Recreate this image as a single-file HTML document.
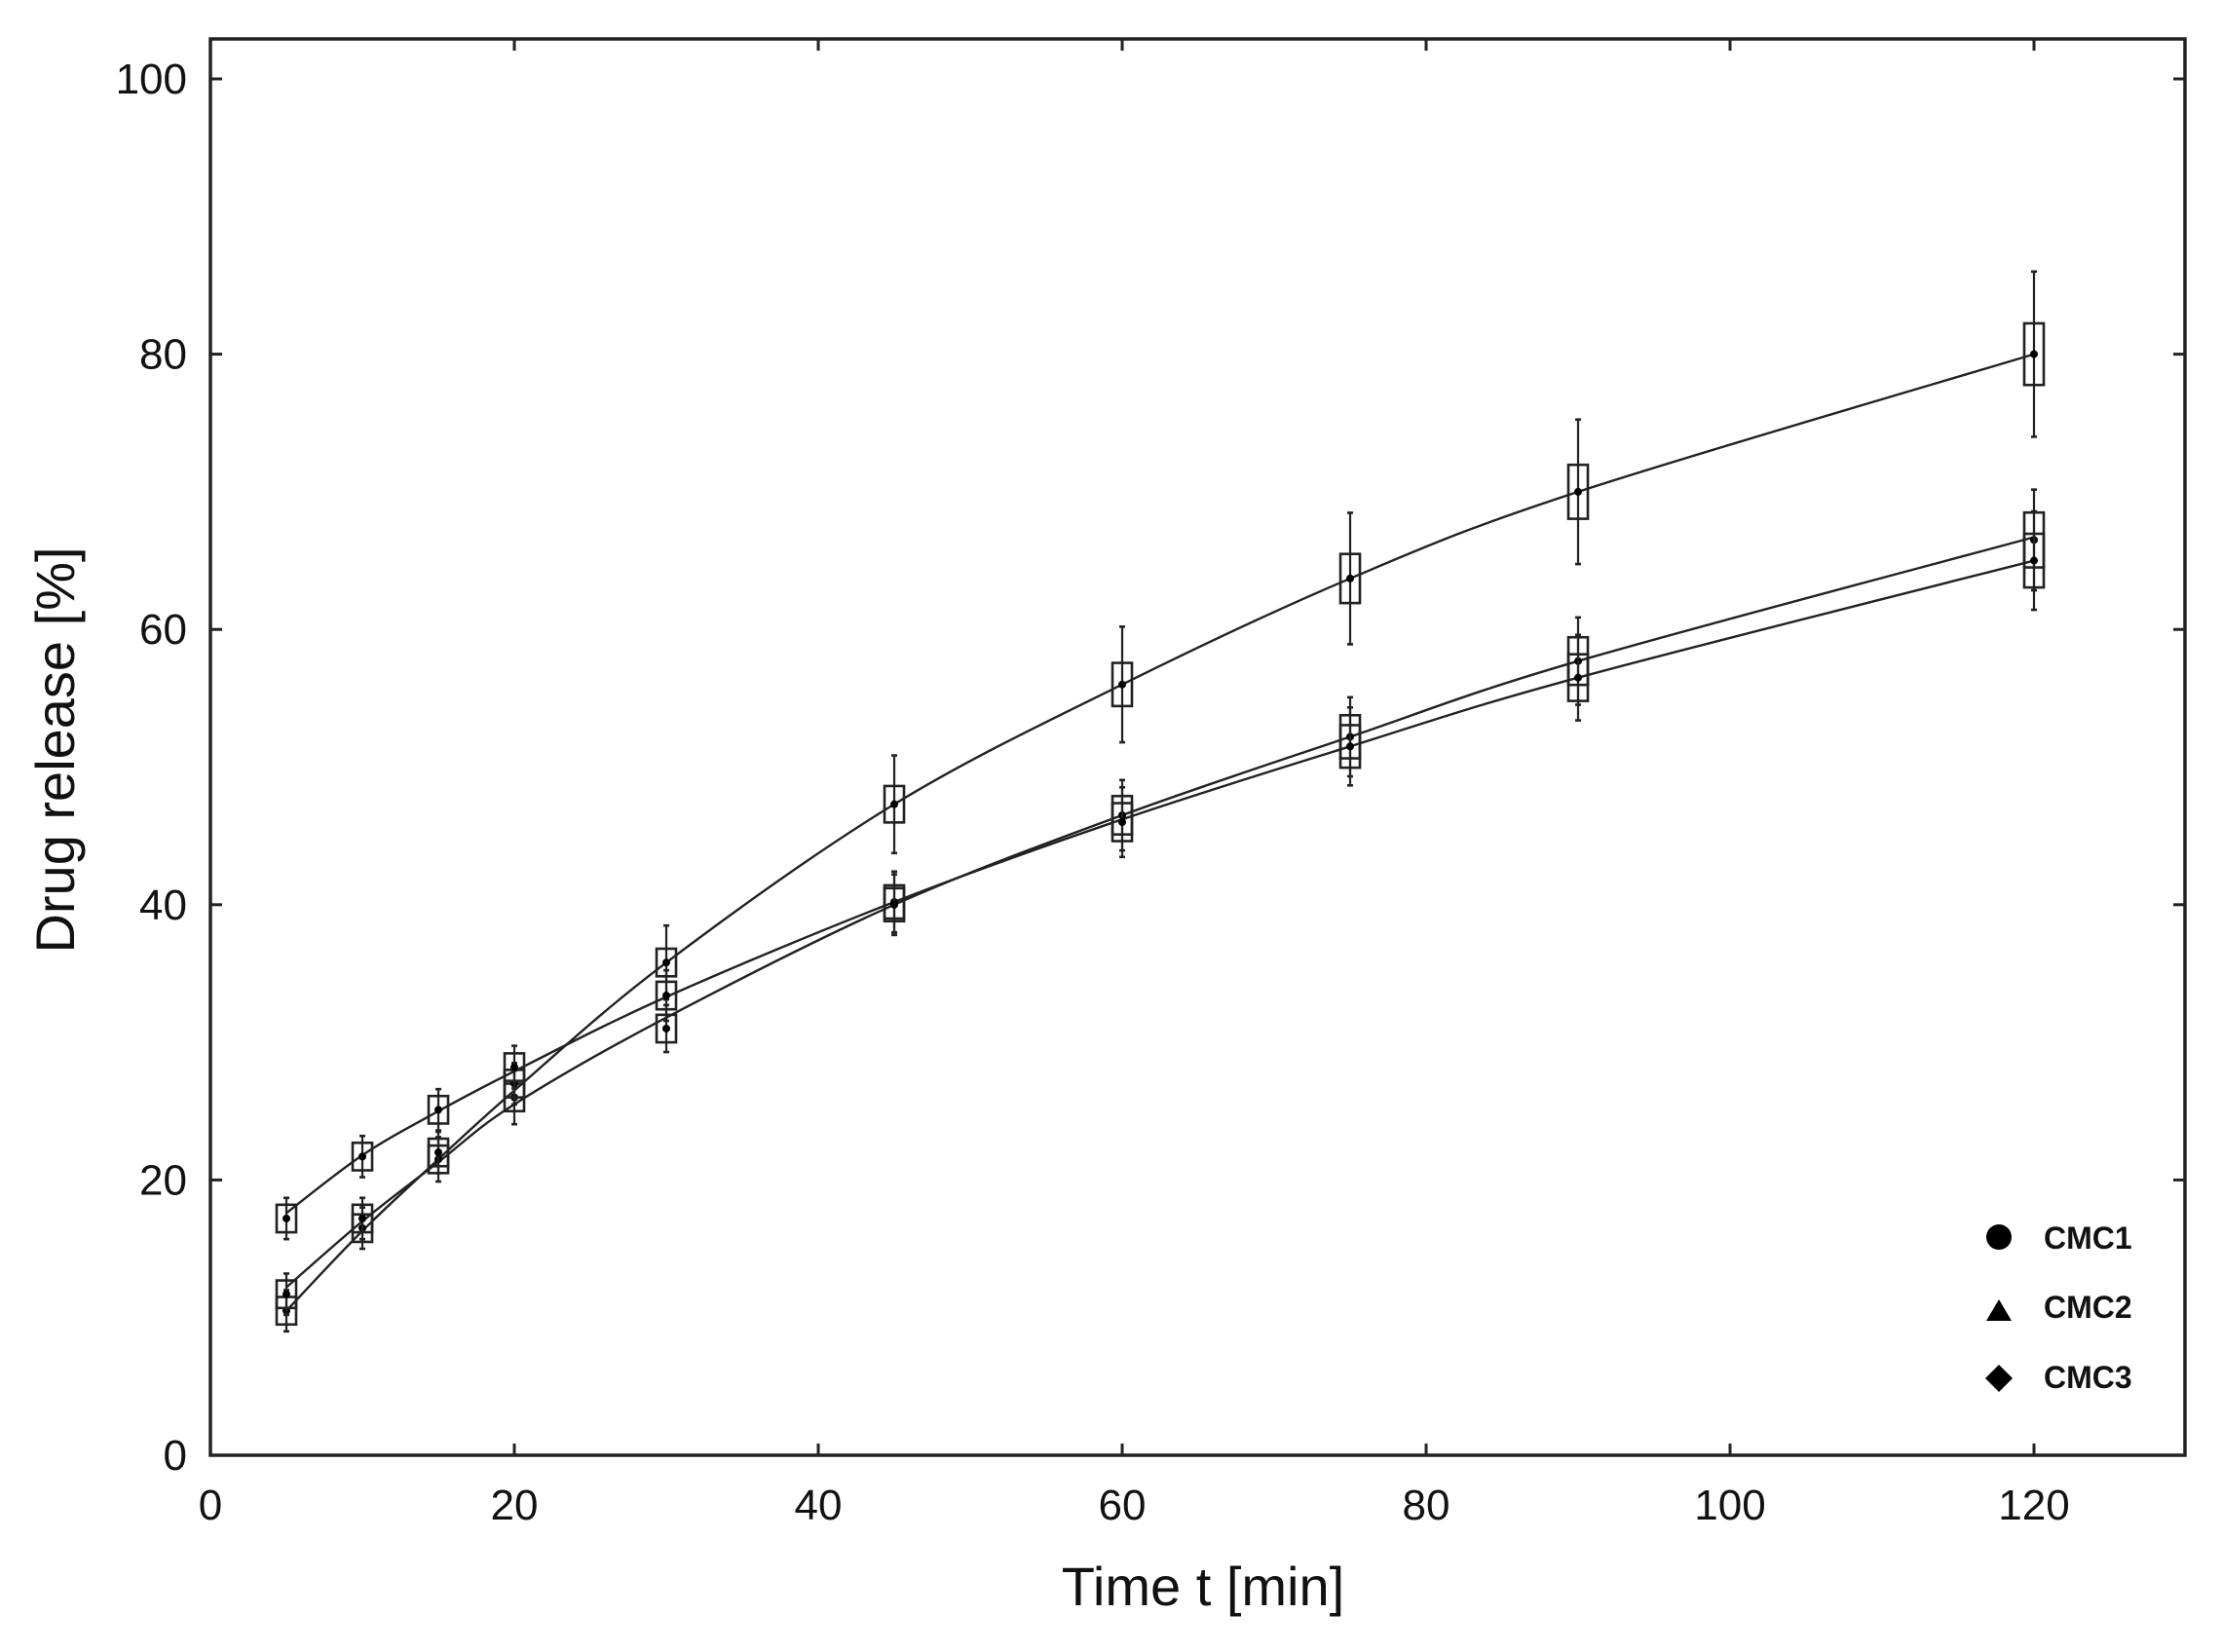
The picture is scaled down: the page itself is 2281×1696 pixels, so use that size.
<!DOCTYPE html>
<html><head><meta charset="utf-8"><style>
html,body{margin:0;padding:0;background:#fff;}
svg{display:block;}
text{font-family:"Liberation Sans",Arial,sans-serif;fill:#111;}
</style></head><body>
<svg id="s" width="2281" height="1696" viewBox="0 0 2281 1696" xmlns="http://www.w3.org/2000/svg">
<rect x="216" y="40" width="2027" height="1454" fill="none" stroke="#222" stroke-width="3.5"/>
<g id="ticks" stroke="#222" stroke-width="3"></g>
<g id="lab" font-size="44" fill="#111"></g>
<g id="plot" fill="none" stroke="#222" stroke-width="2.6"></g>
<text x="1235" y="1648" font-size="56" text-anchor="middle">Time t [min]</text>
<text transform="translate(76,770) rotate(-90)" font-size="56" text-anchor="middle">Drug release [%]</text>
<circle cx="2052" cy="1270" r="13" fill="#000"/>
<polygon points="2052,1334 2065,1356 2039,1356" fill="#000"/>
<polygon points="2052,1401 2066,1415 2052,1429 2038,1415" fill="#000"/>
<text x="2098" y="1282" font-size="32" font-weight="bold">CMC1</text>
<text x="2098" y="1353" font-size="32" font-weight="bold">CMC2</text>
<text x="2098" y="1425" font-size="32" font-weight="bold">CMC3</text>
</svg>
<script>
var NS="http://www.w3.org/2000/svg";
function X(v){return 216+v*15.6;}
function Y(v){return 1494-v*14.13;}
function el(p,t,a){var e=document.createElementNS(NS,t);for(var k in a)e.setAttribute(k,a[k]);document.getElementById(p).appendChild(e);return e;}
for(var i=0;i<=6;i++){var x=X(i*20);
 el('ticks','line',{x1:x,y1:1494,x2:x,y2:1482});el('ticks','line',{x1:x,y1:40,x2:x,y2:52});
 var t=el('lab','text',{x:x,y:1560,'text-anchor':'middle'});t.textContent=i*20;}
for(var i=0;i<=5;i++){var y=Y(i*20);
 el('ticks','line',{x1:216,y1:y,x2:228,y2:y});el('ticks','line',{x1:2243,y1:y,x2:2231,y2:y});
 var t=el('lab','text',{x:192,y:y+15,'text-anchor':'end'});t.textContent=i*20;}
var xs=[5,10,15,20,30,45,60,75,90,120];
var S=[
 {v:[10.5,16.5,21.5,26,35.8,47.3,56,63.7,70,80],c:[10.5,16.3,21.5,26.5,35.8,47.3,56,63.7,70,80],b:0.028,w:0.075},
 {v:[11.7,17.2,22,27,31,40.2,46.5,52.2,57.7,66.5],c:[12.2,17,21.3,25.5,31.8,40,46.5,52.2,57.7,66.7],b:0.03,w:0.055},
 {v:[17.2,21.7,25.1,28.2,33.4,40,46,51.5,56.5,65],c:[17.6,21.8,25,27.9,33.3,40.2,46.2,51.5,56.5,65],b:0.03,w:0.055}];
S.forEach(function(s){
 var P=xs.map(function(x,i){return [X(x),Y(s.c[i])];});
 var d="M"+P[0][0]+","+P[0][1];
 for(var i=0;i<P.length-1;i++){var p0=P[i-1]||P[i],p1=P[i],p2=P[i+1],p3=P[i+2]||p2;
  d+=" C"+(p1[0]+(p2[0]-p0[0])/6)+","+(p1[1]+(p2[1]-p0[1])/6)+" "+(p2[0]-(p3[0]-p1[0])/6)+","+(p2[1]-(p3[1]-p1[1])/6)+" "+p2[0]+","+p2[1];}
 el('plot','path',{d:d,'stroke-width':2.4});
});
S.forEach(function(s){
 xs.forEach(function(xv,i){var v=s.v[i];var px=X(xv),py=Y(v);var bh=Math.max(1,v*s.b)*14.13,wh=Math.max(1.5,v*s.w)*14.13;
  el('plot','line',{x1:px,y1:py-wh,x2:px,y2:py+wh,'stroke-width':2.2});
  el('plot','line',{x1:px-3,y1:py-wh,x2:px+3,y2:py-wh});
  el('plot','line',{x1:px-3,y1:py+wh,x2:px+3,y2:py+wh});
  el('plot','rect',{x:px-10,y:py-bh,width:20,height:2*bh,fill:'none'});
  el('plot','circle',{cx:px,cy:py,r:4,fill:'#000',stroke:'none'});
 });
});
</script>
</body></html>
